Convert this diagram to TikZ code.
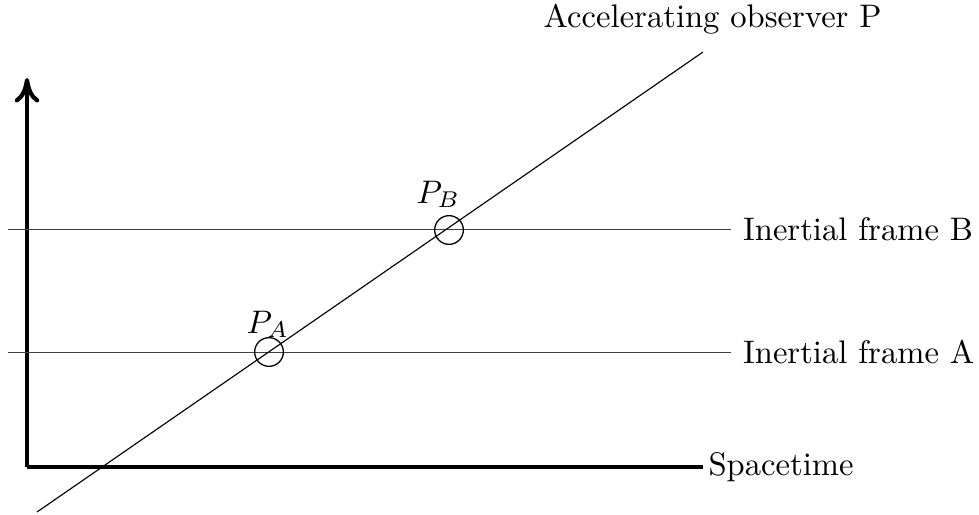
\documentclass[tikz,border=0pt]{standalone}
\usepackage{amsmath}
\usepackage{tikz}
\usetikzlibrary{arrows.meta,positioning,calc}

\begin{document}
\begin{tikzpicture}[
    x=0.3066pt, y=-0.3066pt,
    axis/.style={line width=1.3pt},
    frame/.style={line width=0.3pt, black!75},
    worldline/.style={line width=0.35pt},
    event/.style={circle, draw, line width=0.4pt, minimum size=28.6\pgflinewidth, inner sep=0pt, minimum size=8.8pt},
    lbl/.style={font=\normalsize, inner sep=0pt},
    arr/.style={-{Computer Modern Rightarrow[length=7.5pt, width=7.5pt, line width=1.3pt]}},
]
    \useasboundingbox (0,0) rectangle (979,514);

    % Axes
    \coordinate (origin) at (27,467);
    \coordinate (ytop) at (27,78);
    \coordinate (xend) at (703,467);
    \draw[axis, arr] (origin) -- (ytop);
    \draw[axis] (origin) -- (xend);
    \node[lbl, anchor=west, xshift=1.5pt] (space) at (xend) {Spacetime};

    % Inertial frames
    \coordinate (Bstart) at (8,229);
    \coordinate (Bend) at (731,229);
    \coordinate (Astart) at (8,352);
    \coordinate (Aend) at (731,352);
    \draw[frame] (Bstart) -- (Bend);
    \draw[frame] (Astart) -- (Aend);
    \node[lbl, right=3.5pt of Bend] (frameB) {Inertial frame B};
    \node[lbl, right=3.5pt of Aend] (frameA) {Inertial frame A};

    % Accelerating observer
    \coordinate (Pstart) at (37,512);
    \coordinate (Pend) at (703,52);
    \draw[worldline] (Pstart) -- (Pend);
    \node[lbl, anchor=base west] (obs) at (543,28) {Accelerating observer P};

    % Events
    \node[event] (PB) at (449,230) {};
    \node[event] (PA) at (269,352) {};
    \node[lbl, anchor=base west] (PBlabel) at (416,203) {$P_B$};
    \node[lbl, anchor=base west] (PAlabel) at (246,333) {$P_A$};
\end{tikzpicture}
\end{document}
